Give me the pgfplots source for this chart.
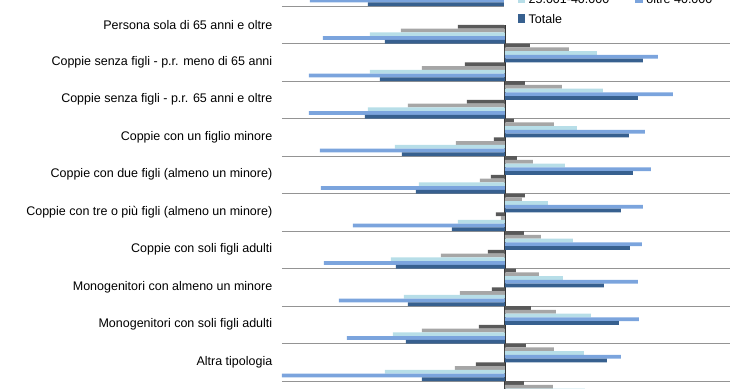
\documentclass[border=0pt]{standalone}
\usepackage{pgfplots}
\pgfplotsset{compat=1.18}
\usepackage{pgfplotstable}
\usepackage{fontspec}
\setmainfont{Liberation Sans}
\definecolor{cDG}{HTML}{595959}
\definecolor{cG}{HTML}{A6A6A6}
\definecolor{cLB}{HTML}{B7DEE8}
\definecolor{cMB}{HTML}{7BA4DD}
\definecolor{cDB}{HTML}{37608F}

\pgfplotstableread{
k rdg rg rlb rmb rdb ldg lg llb lmb ldb
0 22 55 90 150 130 -45 -105 -150 -195 -137
1 25 60 90 150 130 -47 -104 -135 -182 -120
2 25 64 92 153 138 -40 -83 -135 -196 -125
3 20 57 98 168 133 -38 -97 -137 -196 -140
4 9 49 72 140 124 -11 -49 -110 -185 -103
5 12 28 60 146 128 -14 -25 -86 -184 -89
6 20 17 43 138 116 -9 -4 -47 -152 -53
7 19 36 68 137 125 -17 -64 -114 -181 -109
8 11 34 58 133 99 -13 -45 -101 -166 -97
9 26 51 86 134 114 -26 -83 -112 -158 -99
10 21 49 79 116 102 -29 -50 -120 -240 -83
11 19 48 80 130 110 -30 -60 -110 -180 -100
}\data

\begin{document}
\begin{tikzpicture}
\useasboundingbox (-211.5pt,22.125pt) rectangle (343.5pt,313.875pt);
\clip (-211.5pt,22.125pt) rectangle (343.5pt,313.875pt);
\begin{axis}[
  at={(0pt,0pt)}, anchor=south west,
  scale only axis, width=336pt, height=337.5pt,
  xmin=-223, xmax=225, ymin=-0.5, ymax=11.5, y dir=reverse,
  axis line style={draw=none},
  xtick=\empty,
  ytick={1,2,3,4,5,6,7,8,9,10},
  yticklabels={Persona sola di 65 anni e oltre,
    Coppie senza figli - p.r. meno di 65 anni,
    Coppie senza figli - p.r. 65 anni e oltre,
    Coppie con un figlio minore,
    Coppie con due figli (almeno un minore),
    Coppie con tre o più figli (almeno un minore),
    Coppie con soli figli adulti,
    Monogenitori con almeno un minore,
    Monogenitori con soli figli adulti,
    Altra tipologia},
  minor ytick={-0.5,0.5,1.5,2.5,3.5,4.5,5.5,6.5,7.5,8.5,9.5,10.5,11.5},
  yminorgrids=true,
  minor grid style={draw=black!42, line width=0.75pt},
  major tick length=0pt, minor tick length=0pt,
  extra x ticks={0}, extra x tick labels={},
  extra x tick style={grid=major, major grid style={draw=black!80, line width=0.9pt}},
  yticklabel style={font=\fontsize{9.375}{11}\selectfont, inner sep=0pt, xshift=-7.1pt, text=black},
  legend columns=2, legend cell align=left,
  legend style={at={(0.494,0.8735)}, anchor=south west, fill=white, draw=none,
    inner xsep=10.5pt, inner ysep=0pt, font=\fontsize{9.375}{11}\selectfont,
    row sep=6.2pt, nodes={inner sep=0pt},
    /tikz/every odd column/.append style={column sep=2.5pt},
    /tikz/every even column/.append style={column sep=19.5pt}},
  legend image code/.code={\fill[#1] (0pt,-2.4pt) rectangle (5.8pt,4.3pt);},
]
\addplot[xbar, bar width=0.1, bar shift=-0.45, fill=cDG, draw=none] table[x=rdg, y=k]{\data};
\addlegendentry{fino a 10.000}
\addplot[xbar, bar width=0.1, bar shift=-0.35, fill=cG, draw=none] table[x=rg, y=k]{\data};
\addlegendentry{10.001-25.000}
\addplot[xbar, bar width=0.1, bar shift=-0.25, fill=cLB, draw=none] table[x=rlb, y=k]{\data};
\addlegendentry{25.001-40.000}
\addplot[xbar, bar width=0.1, bar shift=-0.15, fill=cMB, draw=none] table[x=rmb, y=k]{\data};
\addlegendentry{oltre 40.000}
\addplot[xbar, bar width=0.1, bar shift=-0.05, fill=cDB, draw=none] table[x=rdb, y=k]{\data};
\addlegendentry{Totale}
\addplot[xbar, bar width=0.1, bar shift=0.05, fill=cDG, draw=none, forget plot] table[x=ldg, y=k]{\data};
\addplot[xbar, bar width=0.1, bar shift=0.15, fill=cG, draw=none, forget plot] table[x=lg, y=k]{\data};
\addplot[xbar, bar width=0.1, bar shift=0.25, fill=cLB, draw=none, forget plot] table[x=llb, y=k]{\data};
\addplot[xbar, bar width=0.1, bar shift=0.35, fill=cMB, draw=none, forget plot] table[x=lmb, y=k]{\data};
\addplot[xbar, bar width=0.1, bar shift=0.45, fill=cDB, draw=none, forget plot] table[x=ldb, y=k]{\data};
\end{axis}
\end{tikzpicture}
\end{document}
